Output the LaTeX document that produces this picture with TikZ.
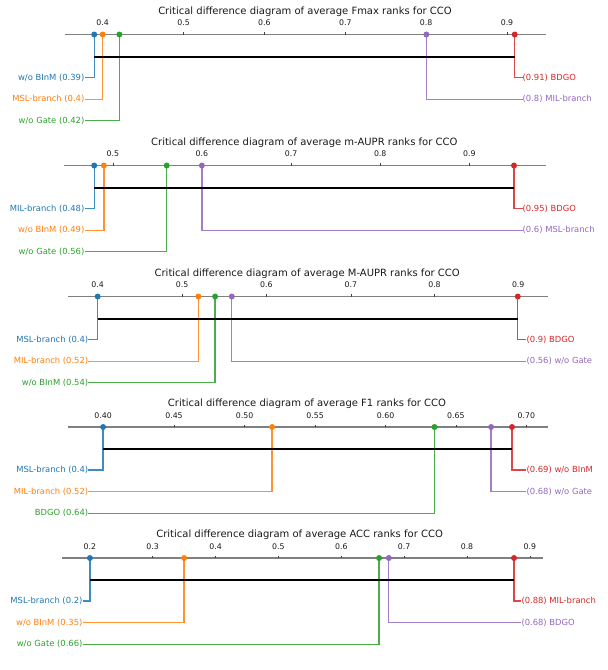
\documentclass[tikz,border=0pt]{standalone}
\usepackage{fontspec}
\setmainfont{DejaVu Sans}
\definecolor{cblue}{HTML}{1F77B4}
\definecolor{corange}{HTML}{FF7F0E}
\definecolor{cgreen}{HTML}{2CA02C}
\definecolor{cred}{HTML}{D62728}
\definecolor{cpurple}{HTML}{9467BD}
\definecolor{axgray}{HTML}{808080}
\begin{document}
\begin{tikzpicture}[x=1pt,y=-1pt,
  ttl/.style={font=\fontsize{10}{12}\selectfont, inner sep=0pt, text=black!90},
  ticklab/.style={font=\fontsize{7.8}{9}\selectfont, inner sep=0pt, text=black!90},
  lab/.style={font=\fontsize{8.4}{10}\selectfont, inner sep=0pt},
  labl/.style={lab, anchor=east},
  labr/.style={lab, anchor=west},
  axisln/.style={draw=axgray, line width=1.1pt},
  tickmk/.style={draw=black!75, line width=0.6pt},
  cdbar/.style={draw=black, line width=2pt},
  conn/.style={line width=1.35pt, draw opacity=0.85},
  dotr/.style={radius=3pt}
]
\useasboundingbox (0,0) rectangle (608,670);

% ---------------- Panel 1: Fmax ----------------
\def\A{34.5}
\node[ttl] (t1) at (305,\A-23) {Critical difference diagram of average Fmax ranks for CCO};
\draw[axisln] (65.1,\A) -- (545.7,\A);
\foreach \v/\x [count=\i] in {0.4/102.7,0.5/183.6,0.6/264.4,0.7/345.3,0.8/426.1,0.9/507} {
  \draw[tickmk] (\x,\A) -- (\x,\A-2.5);
  \node[ticklab] (k1-\i) at (\x,\A-11.5) {\v};
}
\coordinate (p1b) at (94.2,\A);
\coordinate (p1o) at (102.7,\A);
\coordinate (p1g) at (119.4,\A);
\coordinate (p1p) at (426.4,\A);
\coordinate (p1r) at (514.7,\A);
\node[labl, text=cblue] (l1b) at (84.5,\A+43) {w/o BInM (0.39)};
\node[labl, text=corange] (l1o) at (84.5,\A+64.7) {MSL-branch (0.4)};
\node[labl, text=cgreen] (l1g) at (84.5,\A+86.3) {w/o Gate (0.42)};
\node[labr, text=cred] (l1r) at (522.5,\A+43) {(0.91) BDGO};
\node[labr, text=cpurple] (l1p) at (522.5,\A+64.7) {(0.8) MIL-branch};
\draw[conn, cblue] (p1b) |- (l1b.east);
\draw[conn, corange] (p1o) |- (l1o.east);
\draw[conn, cgreen] (p1g) |- (l1g.east);
\draw[conn, cred] (p1r) |- (l1r.west);
\draw[conn, cpurple] (p1p) |- (l1p.west);
\draw[cdbar] (94.2,\A+22) -- (514.7,\A+22);
\fill[cblue] (p1b) circle[dotr];
\fill[corange] (p1o) circle[dotr];
\fill[cgreen] (p1g) circle[dotr];
\fill[cpurple] (p1p) circle[dotr];
\fill[cred] (p1r) circle[dotr];

% ---------------- Panel 2: m-AUPR ----------------
\def\A{165.5}
\node[ttl] (t2) at (304.3,\A-23) {Critical difference diagram of average m-AUPR ranks for CCO};
\draw[axisln] (64,\A) -- (545.7,\A);
\foreach \v/\x [count=\i] in {0.5/112.8,0.6/201.9,0.7/291.1,0.8/380.2,0.9/469.4} {
  \draw[tickmk] (\x,\A) -- (\x,\A-2.5);
  \node[ticklab] (k2-\i) at (\x,\A-11.5) {\v};
}
\coordinate (p2b) at (94.2,\A);
\coordinate (p2o) at (103.9,\A);
\coordinate (p2g) at (166.7,\A);
\coordinate (p2p) at (201.9,\A);
\coordinate (p2r) at (514,\A);
\node[labl, text=cblue] (l2b) at (84.5,\A+43) {MIL-branch (0.48)};
\node[labl, text=corange] (l2o) at (84.5,\A+64.7) {w/o BInM (0.49)};
\node[labl, text=cgreen] (l2g) at (84.5,\A+86.3) {w/o Gate (0.56)};
\node[labr, text=cred] (l2r) at (522.5,\A+43) {(0.95) BDGO};
\node[labr, text=cpurple] (l2p) at (522.5,\A+64.7) {(0.6) MSL-branch};
\draw[conn, cblue] (p2b) |- (l2b.east);
\draw[conn, corange] (p2o) |- (l2o.east);
\draw[conn, cgreen] (p2g) |- (l2g.east);
\draw[conn, cred] (p2r) |- (l2r.west);
\draw[conn, cpurple] (p2p) |- (l2p.west);
\draw[cdbar] (94.2,\A+22) -- (514,\A+22);
\fill[cblue] (p2b) circle[dotr];
\fill[corange] (p2o) circle[dotr];
\fill[cgreen] (p2g) circle[dotr];
\fill[cpurple] (p2p) circle[dotr];
\fill[cred] (p2r) circle[dotr];

% ---------------- Panel 3: M-AUPR ----------------
\def\A{296.5}
\node[ttl] (t3) at (307.2,\A-23) {Critical difference diagram of average M-AUPR ranks for CCO};
\draw[axisln] (67.8,\A) -- (548.4,\A);
\foreach \v/\x [count=\i] in {0.4/97.7,0.5/182.2,0.6/266.3,0.7/350.8,0.8/434.5,0.9/518.2} {
  \draw[tickmk] (\x,\A) -- (\x,\A-2.5);
  \node[ticklab] (k3-\i) at (\x,\A-11.5) {\v};
}
\coordinate (p3b) at (97.7,\A);
\coordinate (p3o) at (198.4,\A);
\coordinate (p3g) at (215.1,\A);
\coordinate (p3p) at (231.8,\A);
\coordinate (p3r) at (517.8,\A);
\node[labl, text=cblue] (l3b) at (88.4,\A+43) {MSL-branch (0.4)};
\node[labl, text=corange] (l3o) at (88.4,\A+64.7) {MIL-branch (0.52)};
\node[labl, text=cgreen] (l3g) at (88.4,\A+86.3) {w/o BInM (0.54)};
\node[labr, text=cred] (l3r) at (526.4,\A+43) {(0.9) BDGO};
\node[labr, text=cpurple] (l3p) at (526.4,\A+64.7) {(0.56) w/o Gate};
\draw[conn, cblue] (p3b) |- (l3b.east);
\draw[conn, corange] (p3o) |- (l3o.east);
\draw[conn, cgreen] (p3g) |- (l3g.east);
\draw[conn, cred] (p3r) |- (l3r.west);
\draw[conn, cpurple] (p3p) |- (l3p.west);
\draw[cdbar] (97.7,\A+22) -- (517.8,\A+22);
\fill[cblue] (p3b) circle[dotr];
\fill[corange] (p3o) circle[dotr];
\fill[cgreen] (p3g) circle[dotr];
\fill[cpurple] (p3p) circle[dotr];
\fill[cred] (p3r) circle[dotr];

% ---------------- Panel 4: F1 ----------------
\def\A{427}
\node[ttl] (t4) at (307,\A-23) {Critical difference diagram of average F1 ranks for CCO};
\draw[axisln] (67.8,\A) -- (548.4,\A);
\foreach \v/\x [count=\i] in {0.40/103.1,0.45/174,0.50/244.6,0.55/315.1,0.60/385.6,0.65/455.9,0.70/526.4} {
  \draw[tickmk] (\x,\A) -- (\x,\A-2.5);
  \node[ticklab] (k4-\i) at (\x,\A-11.5) {\v};
}
\coordinate (p4b) at (103.1,\A);
\coordinate (p4o) at (272.1,\A);
\coordinate (p4g) at (434.5,\A);
\coordinate (p4p) at (491.1,\A);
\coordinate (p4r) at (512,\A);
\node[labl, text=cblue] (l4b) at (88.4,\A+43) {MSL-branch (0.4)};
\node[labl, text=corange] (l4o) at (88.4,\A+64.7) {MIL-branch (0.52)};
\node[labl, text=cgreen] (l4g) at (88.4,\A+86.3) {BDGO (0.64)};
\node[labr, text=cred] (l4r) at (526.4,\A+43) {(0.69) w/o BInM};
\node[labr, text=cpurple] (l4p) at (526.4,\A+64.7) {(0.68) w/o Gate};
\draw[conn, cblue] (p4b) |- (l4b.east);
\draw[conn, corange] (p4o) |- (l4o.east);
\draw[conn, cgreen] (p4g) |- (l4g.east);
\draw[conn, cred] (p4r) |- (l4r.west);
\draw[conn, cpurple] (p4p) |- (l4p.west);
\draw[cdbar] (103.1,\A+22) -- (512,\A+22);
\fill[cblue] (p4b) circle[dotr];
\fill[corange] (p4o) circle[dotr];
\fill[cgreen] (p4g) circle[dotr];
\fill[cpurple] (p4p) circle[dotr];
\fill[cred] (p4r) circle[dotr];

% ---------------- Panel 5: ACC ----------------
\def\A{558}
\node[ttl] (t5) at (299.6,\A-23) {Critical difference diagram of average ACC ranks for CCO};
\draw[axisln] (62,\A) -- (542.6,\A);
\foreach \v/\x [count=\i] in {0.2/89.9,0.3/152.7,0.4/215.6,0.5/278.4,0.6/341.3,0.7/404.1,0.8/467,0.9/529.8} {
  \draw[tickmk] (\x,\A) -- (\x,\A-2.5);
  \node[ticklab] (k5-\i) at (\x,\A-11.5) {\v};
}
\coordinate (p5b) at (89.9,\A);
\coordinate (p5o) at (184.1,\A);
\coordinate (p5g) at (379.1,\A);
\coordinate (p5p) at (388.8,\A);
\coordinate (p5r) at (514,\A);
\node[labl, text=cblue] (l5b) at (82.6,\A+43) {MSL-branch (0.2)};
\node[labl, text=corange] (l5o) at (82.6,\A+64.7) {w/o BInM (0.35)};
\node[labl, text=cgreen] (l5g) at (82.6,\A+86.3) {w/o Gate (0.66)};
\node[labr, text=cred] (l5r) at (521.3,\A+43) {(0.88) MIL-branch};
\node[labr, text=cpurple] (l5p) at (521.3,\A+64.7) {(0.68) BDGO};
\draw[conn, cblue] (p5b) |- (l5b.east);
\draw[conn, corange] (p5o) |- (l5o.east);
\draw[conn, cgreen] (p5g) |- (l5g.east);
\draw[conn, cred] (p5r) |- (l5r.west);
\draw[conn, cpurple] (p5p) |- (l5p.west);
\draw[cdbar] (89.9,\A+22) -- (514,\A+22);
\fill[cblue] (p5b) circle[dotr];
\fill[corange] (p5o) circle[dotr];
\fill[cgreen] (p5g) circle[dotr];
\fill[cpurple] (p5p) circle[dotr];
\fill[cred] (p5r) circle[dotr];
\end{tikzpicture}
\end{document}
